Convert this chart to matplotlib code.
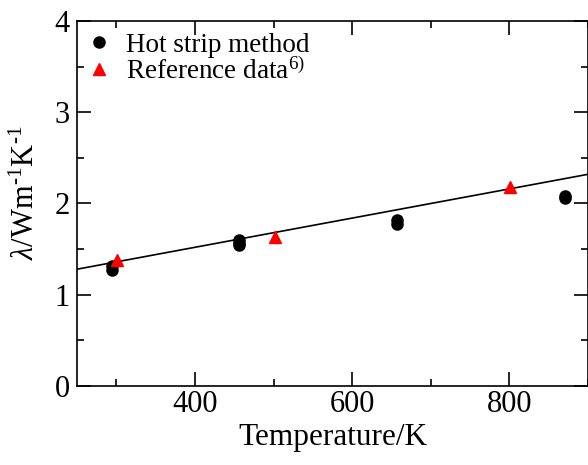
import matplotlib
matplotlib.use('Agg')
import matplotlib.pyplot as plt
from matplotlib.ticker import MultipleLocator

plt.rcParams['font.family'] = ['Liberation Serif', 'DejaVu Serif']
plt.rcParams['mathtext.fontset'] = 'custom'
plt.rcParams['mathtext.rm'] = 'Liberation Serif'
plt.rcParams['mathtext.it'] = 'Liberation Serif:italic'

# hot strip method measurements
hs_T = [295, 295, 456, 456, 456, 657, 657, 871, 871]
hs_lambda = [1.27, 1.31, 1.54, 1.57, 1.60, 1.78, 1.82, 2.06, 2.08]

# reference data
ref_T = [301, 502, 801]
ref_lambda = [1.38, 1.63, 2.18]

# fitted line
fit_T = [250, 900]
fit_lambda = [1.28, 2.32]

fig = plt.figure(figsize=(5.88, 4.65), dpi=100)
ax = fig.add_axes([77 / 588, 79 / 465, 511 / 588, 365 / 465])

ax.plot(fit_T, fit_lambda, color='black', lw=1.2, zorder=1)
ax.plot(hs_T, hs_lambda, 'o', color='black', ms=8, ls='none',
        label='Hot strip method', zorder=2)
ax.plot(ref_T, ref_lambda, '^', color='red', ms=9, ls='none',
        label='Reference data$^{6)}$', zorder=3)

ax.set_xlim(250, 900)
ax.set_ylim(0, 4)
ax.xaxis.set_major_locator(MultipleLocator(200))
ax.xaxis.set_minor_locator(MultipleLocator(100))
ax.yaxis.set_major_locator(MultipleLocator(1))
ax.yaxis.set_minor_locator(MultipleLocator(0.5))
ax.tick_params(which='both', direction='in', top=True, right=True,
               labelsize=22, width=1.2)
ax.tick_params(axis='x', pad=3)
ax.tick_params(axis='y', pad=5)
ax.tick_params(which='major', length=10)
ax.tick_params(which='minor', length=5)
for s in ax.spines.values():
    s.set_linewidth(1.2)

ax.set_xlabel('Temperature/K', fontsize=22.5, labelpad=3)
ax.set_ylabel('$\\mathit{λ}$/Wm$^{\u20101}$K$^{\u20101}$', fontsize=22)
ax.yaxis.set_label_coords(-0.07, 0.53)

ax.legend(loc='upper left', bbox_to_anchor=(-0.005, 0.99), frameon=False,
          fontsize=19.5, handletextpad=0.4, borderaxespad=0.0,
          labelspacing=0.0, handlelength=1.2, borderpad=0.3)

plt.savefig('out.png', dpi=100)
